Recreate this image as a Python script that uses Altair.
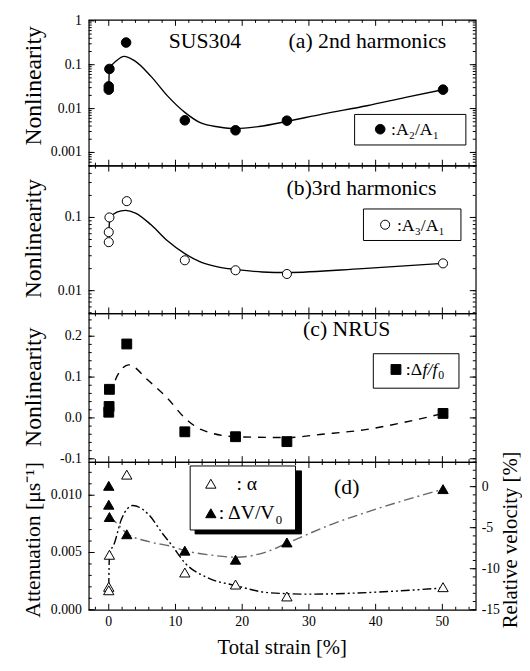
import altair as alt
import pandas as pd

FONT = "Liberation Serif"

# ---------------- data ----------------
# (a) 2nd harmonics A2/A1
strain_a = [0.1, 0.0, 0.0, 2.6, 11.4, 19.0, 26.7, 50.1]
a2a1 = [0.080, 0.032, 0.027, 0.32, 0.0054, 0.0032, 0.0053, 0.027]
fit_a_x = [0.0, 0.1, 1.2, 2.3, 3.8, 6.3, 8.8, 11.4, 13.8, 16.5, 19.0, 22.5, 26.7, 32.0, 38.7, 44.5, 50.1]
fit_a_y = [0.03, 0.08, 0.125, 0.155, 0.125, 0.055, 0.0195, 0.0082, 0.0047, 0.0038, 0.0035, 0.0039, 0.0051, 0.0075, 0.0116, 0.018, 0.027]

# (b) 3rd harmonics A3/A1
strain_b = [0.1, 0.0, 0.0, 2.7, 11.4, 19.0, 26.7, 50.1]
a3a1 = [0.100, 0.063, 0.046, 0.167, 0.026, 0.019, 0.0169, 0.0236]
fit_b_x = [0.0, 0.2, 1.2, 2.5, 4.0, 6.3, 8.8, 11.4, 13.8, 16.5, 19.0, 23.0, 26.7, 38.0, 50.1]
fit_b_y = [0.063, 0.10, 0.118, 0.125, 0.115, 0.080, 0.048, 0.032, 0.0246, 0.021, 0.0195, 0.018, 0.0177, 0.020, 0.0236]

# (c) NRUS  delta f / f0
strain_c = [0.1, 0.05, 0.0, 2.7, 11.4, 19.0, 26.7, 50.1]
df_f0 = [0.070, 0.028, 0.014, 0.181, -0.034, -0.046, -0.058, 0.011]
fit_c_x = [0.25, 1.3, 3.0, 5.9, 8.8, 11.4, 13.8, 19.0, 26.7, 32.0, 38.7, 44.5, 50.1]
fit_c_y = [0.058, 0.104, 0.130, 0.092, 0.048, 0.0, -0.028, -0.046, -0.048, -0.040, -0.028, -0.010, 0.011]

# (d) attenuation alpha and relative velocity dV/V0
strain_alpha = [0.0, 0.0, 0.1, 2.7, 11.4, 19.0, 26.7, 50.1]
alpha = [0.0020, 0.0017, 0.0048, 0.0118, 0.00325, 0.0022, 0.00116, 0.00197]
fit_alpha_x = [0.0, 0.1, 0.9, 1.9, 3.6, 6.0, 8.0, 9.5, 11.4, 14.8, 19.1, 23.8, 30.0, 38.7, 50.1]
fit_alpha_y = [0.0020, 0.0047, 0.0059, 0.0079, 0.0091, 0.0083, 0.0067, 0.0056, 0.0041, 0.0028, 0.0021, 0.0015, 0.00136, 0.0015, 0.0019]
strain_v = [0.0, 0.0, 0.1, 2.7, 11.4, 19.0, 26.7, 50.1]
dv = [0.1, -2.2, -3.7, -5.8, -7.8, -8.9, -6.8, -0.3]
fit_dv_x = [0.0, 1.0, 2.7, 6.0, 9.5, 11.4, 15.0, 19.1, 23.8, 26.7, 33.7, 38.7, 50.1]
fit_dv_y = [-3.7, -4.3, -5.7, -6.7, -7.3, -7.8, -8.3, -8.6, -7.9, -6.9, -4.5, -3.1, -0.3]

# axis tick values and their labels
x_major = [0, 10, 20, 30, 40, 50]
x_labels = ["0", "10", "20", "30", "40", "50"]
x_minor = [v for v in range(-2, 55, 2) if v % 10 != 0]
a_major = [0.001, 0.01, 0.1, 1]
a_labels = ["0.001", "0.01", "0.1", "1"]
b_major = [0.01, 0.1]
b_labels = ["0.01", "0.1"]
c_major = [-0.1, 0.0, 0.1, 0.2]
c_labels = ["-0.1", "0.0", "0.1", "0.2"]
c_minor = [round(-0.1 + 0.02 * i, 2) for i in range(18)]
d_major = [0.0, 0.005, 0.010]
d_labels = ["0.000", "0.005", "0.010"]
d_minor = [round(0.001 * i, 3) for i in range(13)]
v_major = [0, -5, -10, -15]
v_labels = ["0", "-5", "-10", "-15"]
v_minor = list(range(-15, 4))

W = 393
H_A, H_B, H_C, H_D = 148, 150, 151, 150

XS = alt.Scale(domain=[-3, 55], nice=False, zero=False)
YS_A = alt.Scale(type="log", domain=[0.0005, 1.05], nice=False)
YS_B = alt.Scale(type="log", domain=[0.0049, 0.51], nice=False)
YS_C = alt.Scale(domain=[-0.108, 0.256], nice=False, zero=False)
YS_D = alt.Scale(domain=[0, 0.0129], nice=False, zero=False)
YS_V = alt.Scale(domain=[-15, 3.0], nice=False, zero=False)

ONE = pd.DataFrame({"k": [0]})


def log_minor(lo, hi):
    out = []
    for e in range(-5, 1):
        for m in range(1, 10):
            v = m * 10.0 ** e
            if lo <= v <= hi:
                out.append(v)
    return out


def df_xy(xs, ys):
    return pd.DataFrame({"x": xs, "y": ys})


def points(xs, ys, ysc, shape, fill, size):
    return alt.Chart(df_xy(xs, ys)).mark_point(
        shape=shape, filled=True, fill=fill, stroke="black", strokeWidth=1, size=size, opacity=1
    ).encode(
        x=alt.X("x:Q", scale=XS, axis=None),
        y=alt.Y("y:Q", scale=ysc, axis=None),
    )


def curve(xs, ys, ysc, dash=None, color="black"):
    kw = dict(color=color, strokeWidth=1.4, interpolate="monotone")
    if dash:
        kw["strokeDash"] = dash
    return alt.Chart(df_xy(xs, ys)).mark_line(**kw).encode(
        x=alt.X("x:Q", scale=XS, axis=None),
        y=alt.Y("y:Q", scale=ysc, axis=None),
    )


def yticks(vals, ysc, length, side):
    ch = alt.Chart(pd.DataFrame({"v": vals})).mark_rule(color="black", strokeWidth=1)
    if side == "left":
        return ch.encode(y=alt.Y("v:Q", scale=ysc, axis=None), x=alt.value(0), x2=alt.value(length))
    return ch.encode(y=alt.Y("v:Q", scale=ysc, axis=None), x=alt.value(W), x2=alt.value(W - length))


def xticks(vals, length, side, h):
    ch = alt.Chart(pd.DataFrame({"v": vals})).mark_rule(color="black", strokeWidth=1)
    if side == "top":
        return ch.encode(x=alt.X("v:Q", scale=XS, axis=None), y=alt.value(0), y2=alt.value(length))
    return ch.encode(x=alt.X("v:Q", scale=XS, axis=None), y=alt.value(h), y2=alt.value(h - length))


def frame_x(h):
    return [xticks(x_major, 6, "top", h), xticks(x_minor, 3, "top", h),
            xticks(x_major, 6, "bottom", h), xticks(x_minor, 3, "bottom", h)]


def ylabels(vals, texts, ysc, side="left"):
    left = side == "left"
    return alt.Chart(pd.DataFrame({"v": vals, "t": texts})).mark_text(
        font=FONT, fontSize=14, align="right" if left else "left", baseline="middle",
        fill="black"
    ).encode(
        y=alt.Y("v:Q", scale=ysc, axis=None),
        x=alt.value(-7 if left else W + 6),
        text="t:N",
    )


def xlabels(h):
    return alt.Chart(pd.DataFrame({"v": x_major, "t": x_labels})).mark_text(
        font=FONT, fontSize=14, align="center", baseline="middle", fill="black"
    ).encode(x=alt.X("v:Q", scale=XS, axis=None), y=alt.value(h + 13), text="t:N")


def label(text, x, y, size=18, align="left", style="normal", angle=0):
    return alt.Chart(ONE).mark_text(
        text=text, font=FONT, fontSize=size, align=align, baseline="middle",
        fontStyle=style, fill="black", angle=angle
    ).encode(x=alt.value(x), y=alt.value(y))


def box(x1, x2, y1, y2, fill="white"):
    return alt.Chart(ONE).mark_rect(fill=fill, stroke="black", strokeWidth=1).encode(
        x=alt.value(x1), x2=alt.value(x2), y=alt.value(y1), y2=alt.value(y2))


def sym(shape, x, y, fill, size):
    return alt.Chart(ONE).mark_point(
        shape=shape, filled=True, fill=fill, stroke="black", strokeWidth=1, size=size, opacity=1
    ).encode(x=alt.value(x), y=alt.value(y))


# ---------------- panel (a) ----------------
mn_a = log_minor(0.0005, 1.05)
pa = alt.layer(
    curve(fit_a_x, fit_a_y, YS_A),
    points(strain_a, a2a1, YS_A, "circle", "black", 95),
    yticks(a_major, YS_A, 6, "left"), yticks(mn_a, YS_A, 3, "left"),
    yticks(a_major, YS_A, 6, "right"), yticks(mn_a, YS_A, 3, "right"),
    ylabels(a_major, a_labels, YS_A),
    *frame_x(H_A),
    label("Nonlinearity", -55, 67, size=24, align="center", angle=270),
    label("SUS304", 118, 22, size=22, align="center"),
    label("(a) 2nd harmonics", 283, 22, size=22, align="center"),
    box(270, 383, 96, 127),
    sym("circle", 296, 111, "black", 95),
    label(":A\u2082/A\u2081", 307, 112, size=18),
).properties(width=W, height=H_A)

# ---------------- panel (b) ----------------
mn_b = log_minor(0.0049, 0.51)
pb = alt.layer(
    curve(fit_b_x, fit_b_y, YS_B),
    points(strain_b, a3a1, YS_B, "circle", "white", 85),
    yticks(b_major, YS_B, 6, "left"), yticks(mn_b, YS_B, 3, "left"),
    yticks(b_major, YS_B, 6, "right"), yticks(mn_b, YS_B, 3, "right"),
    ylabels(b_major, b_labels, YS_B),
    *frame_x(H_B),
    label("Nonlinearity", -55, 74, size=24, align="center", angle=270),
    label("(b)3rd harmonics", 277, 23, size=22, align="center"),
    box(279, 378, 44, 76),
    sym("circle", 301, 60, "white", 85),
    label(":A\u2083/A\u2081", 313, 61, size=18),
).properties(width=W, height=H_B)

# ---------------- panel (c) ----------------
pc = alt.layer(
    curve(fit_c_x, fit_c_y, YS_C, dash=[8, 7]),
    points(strain_c, df_f0, YS_C, "square", "black", 100),
    yticks(c_major, YS_C, 6, "left"), yticks(c_minor, YS_C, 3, "left"),
    yticks(c_major, YS_C, 6, "right"), yticks(c_minor, YS_C, 3, "right"),
    ylabels(c_major, c_labels, YS_C),
    *frame_x(H_C),
    label("Nonlinearity", -55, 75, size=24, align="center", angle=270),
    label("(c) NRUS", 262, 16, size=22, align="center"),
    box(289, 376, 41, 76),
    sym("square", 312, 57, "black", 100),
    label(":\u0394", 322, 58, size=18),
    label("f/f", 339, 58, size=18, style="italic"),
    label("0", 355, 63, size=12),
).properties(width=W, height=H_C)

# ---------------- panel (d) ----------------
left_d = alt.layer(
    curve(fit_alpha_x, fit_alpha_y, YS_D, dash=[9, 3, 2, 3, 2, 3]),
    points(strain_alpha, alpha, YS_D, "triangle-up", "white", 110),
    yticks(d_major, YS_D, 6, "left"), yticks(d_minor, YS_D, 3, "left"),
    ylabels(d_major, d_labels, YS_D),
)
right_d = alt.layer(
    curve(fit_dv_x, fit_dv_y, YS_V, dash=[10, 4, 2, 4], color="#666666"),
    points(strain_v, dv, YS_V, "triangle-up", "black", 110),
    yticks(v_major, YS_V, 6, "right"), yticks(v_minor, YS_V, 3, "right"),
    ylabels(v_major, v_labels, YS_V, side="right"),
)
deco_d = alt.layer(
    *frame_x(H_D),
    xlabels(H_D),
    label("Total strain [%]", W / 2, H_D + 39, size=21, align="center"),
    label("Attenuation [\u03bcs\u207b\u00b9]", -56, 79, size=22, align="center", angle=270),
    label("Relative velocity [%]", W + 36, 79, size=21, align="center", angle=270),
    box(108, 216, 9, 73, fill="black"),
    box(103, 210, 4, 69),
    sym("triangle-up", 124, 22, "white", 110),
    label(":  \u03b1", 150, 22, size=20),
    sym("triangle-up", 124, 52, "black", 110),
    label(": \u0394V/V", 132, 52, size=20),
    label("0", 190, 59, size=13),
    label("(d)", 262, 25, size=22, align="center"),
)
pd_ = alt.layer(left_d, right_d, deco_d).resolve_scale(y="independent").properties(width=W, height=H_D)

chart = alt.vconcat(pa, pb, pc, pd_, spacing=0, bounds="flush").properties(
    padding={"left": 14, "top": 0, "right": 0, "bottom": 0}
).configure(font=FONT).configure_view(stroke="black", strokeWidth=1.2)

chart.save("out.html", embed_options={"renderer": "svg", "actions": False})
